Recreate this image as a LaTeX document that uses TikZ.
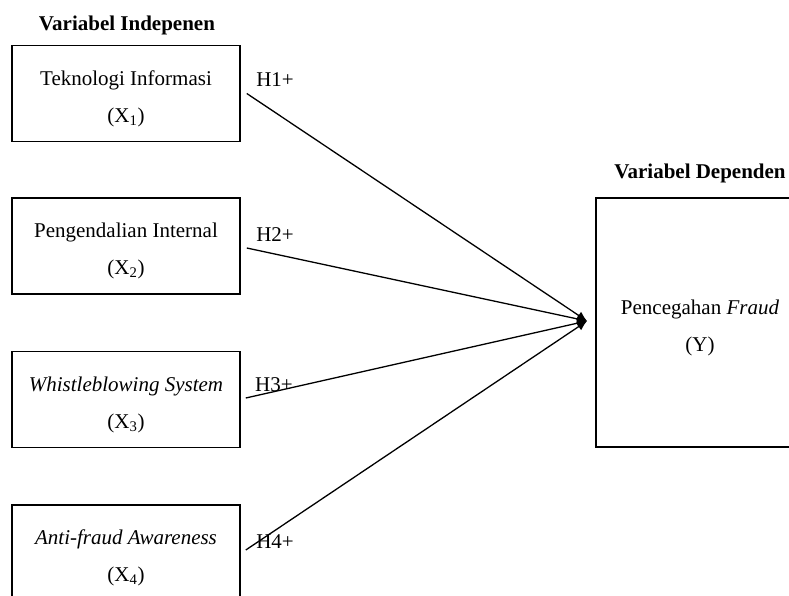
\documentclass[tikz,border=0pt]{standalone}
\usepackage{fontspec}
\setmainfont{Liberation Serif}
\usetikzlibrary{arrows.meta}
\begin{document}
\begin{tikzpicture}[x=1pt,y=-1pt,
  box/.style={draw=black,line width=1.6pt,minimum width=228pt,minimum height=96pt,inner sep=0pt},
  bigbox/.style={draw=black,line width=1.6pt,minimum width=206pt,minimum height=249pt,inner sep=0pt},
  txt/.style={align=center,font=\fontsize{21}{37}\selectfont,inner sep=0pt},
  title/.style={font=\fontsize{21}{25}\selectfont\bfseries,inner sep=0pt},
  hlab/.style={font=\fontsize{21}{25}\selectfont,inner sep=0pt},
  conn/.style={line width=1.3pt,-{Latex[length=10pt,width=9pt]}}]
\useasboundingbox (0,0) rectangle (789,596);
\fill[white] (0,0) rectangle (789,596);

\node[title] (t1) at (127,25) {Variabel Indepenen};
\node[title] (t2) at (700,173) {Variabel Dependen};

\node[box] (b1) at (126,93.5) {};
\node[box] (b2) at (126,246) {};
\node[box] (b3) at (126,399.5) {};
\node[box] (b4) at (126,553) {};
\node[bigbox] (y) at (699,322.5) {};

\node[txt] (x1) at ([yshift=-5pt]b1.center) {Teknologi Informasi\\(X\textsubscript{1})};
\node[txt] (x2) at ([yshift=-5pt]b2.center) {Pengendalian Internal\\(X\textsubscript{2})};
\node[txt] (x3) at ([yshift=-5pt]b3.center) {\textit{Whistleblowing System}\\(X\textsubscript{3})};
\node[txt] (x4) at ([yshift=-5pt]b4.center) {\textit{Anti-fraud Awareness}\\(X\textsubscript{4})};
\node[txt] (yt) at (700,328) {Pencegahan \textit{Fraud}\\(Y)};

\node[hlab] (h1) at (275,80) {H1+};
\node[hlab] (h2) at (275,235) {H2+};
\node[hlab] (h3) at (274,385) {H3+};
\node[hlab] (h4) at (275,542) {H4+};

\coordinate (hub) at (587,321);
\draw[conn] ([xshift=6pt,yshift=0pt]b1.east) -- (hub);
\draw[conn] ([xshift=6pt,yshift=-2pt]b2.east) -- (hub);
\draw[conn] ([xshift=5pt,yshift=1.5pt]b3.east) -- (hub);
\draw[conn] ([xshift=5pt,yshift=3pt]b4.east) -- (hub);
\end{tikzpicture}
\end{document}
